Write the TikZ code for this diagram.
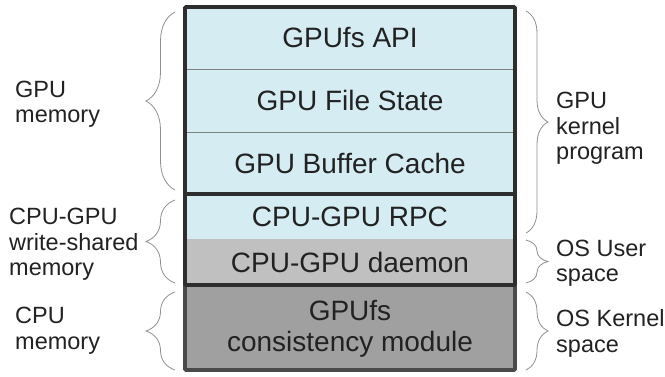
\documentclass[tikz,border=0pt]{standalone}
\usepackage{fontspec}
\setmainfont{Liberation Sans}
\usetikzlibrary{decorations.pathreplacing}
\definecolor{lblue}{HTML}{D4ECF2}
\definecolor{dgray}{HTML}{C0C0C0}
\definecolor{mgray}{HTML}{A0A0A0}
\definecolor{edgec}{HTML}{2E2E2E}
\definecolor{edgeb}{HTML}{4A4A4A}
\definecolor{brc}{HTML}{909090}
\definecolor{txt}{HTML}{222222}
\begin{document}
\begin{tikzpicture}[x=1pt,y=-1pt,
  mainlbl/.style={font=\fontsize{28}{32}\selectfont, text=txt, anchor=base, inner sep=0pt},
  sidelbl/.style={font=\fontsize{23.5}{27}\selectfont, text=txt, anchor=base west, inner sep=0pt},
  frame/.style={draw=edgec, line width=3.8pt, rounded corners=1pt},
  sepline/.style={draw=gray, line width=0.8pt},
  lbrace/.style={draw=brc, line width=0.8pt, decorate, decoration={brace, amplitude=29pt}},
  rbrace/.style={draw=brc, line width=0.8pt, decorate, decoration={brace, amplitude=22pt}}
]
\fill[white] (0,0) rectangle (665,376);
\useasboundingbox (0,0) rectangle (665,376);
% layers
\fill[lblue] (185,7) rectangle (515,239);
\fill[dgray] (185,239) rectangle (515,285);
\fill[mgray] (185,285) rectangle (515,370);
\draw[sepline] (185,69) -- (515,69);
\draw[sepline] (185,132) -- (515,132);
\draw[frame, draw=edgeb] (185,285) rectangle (515,370);
\draw[frame] (185,194) rectangle (515,285);
\draw[frame] (185,7) rectangle (515,194);
% main labels
\node[mainlbl] (api) at (350,47) {GPUfs API};
\node[mainlbl] (fstate) at (350,110) {GPU File State};
\node[mainlbl] (bcache) at (350,173) {GPU Buffer Cache};
\node[mainlbl] (rpc) at (350,226) {CPU-GPU RPC};
\node[mainlbl] (daemon) at (350,272) {CPU-GPU daemon};
\node[mainlbl] (mod1) at (350,320) {GPUfs};
\node[mainlbl] (mod2) at (350,351) {consistency module};
% left braces
\coordinate (lb1a) at (175,190); \coordinate (lb1b) at (175,12);
\coordinate (lb2a) at (175,283); \coordinate (lb2b) at (175,200);
\coordinate (lb3a) at (175,370); \coordinate (lb3b) at (175,292);
\draw[lbrace] (lb1a) -- (lb1b);
\draw[lbrace] (lb2a) -- (lb2b);
\draw[lbrace] (lb3a) -- (lb3b);
% right braces
\coordinate (rb1a) at (526,11); \coordinate (rb1b) at (526,233);
\coordinate (rb2a) at (526,240); \coordinate (rb2b) at (526,283);
\coordinate (rb3a) at (526,292); \coordinate (rb3b) at (526,370);
\draw[rbrace] (rb1a) -- (rb1b);
\draw[rbrace] (rb2a) -- (rb2b);
\draw[rbrace] (rb3a) -- (rb3b);
% left labels
\node[sidelbl] (gm1) at (15,97) {GPU};
\node[sidelbl] (gm2) at (15,122) {memory};
\node[sidelbl] (ws1) at (9,224) {CPU-GPU};
\node[sidelbl] (ws2) at (9,250) {write-shared};
\node[sidelbl] (ws3) at (9,275) {memory};
\node[sidelbl] (cm1) at (15,323) {CPU};
\node[sidelbl] (cm2) at (15,349) {memory};
% right labels
\node[sidelbl] (kp1) at (556,108) {GPU};
\node[sidelbl] (kp2) at (556,134) {kernel};
\node[sidelbl] (kp3) at (556,159) {program};
\node[sidelbl] (us1) at (556,256) {OS User};
\node[sidelbl] (us2) at (556,281) {space};
\node[sidelbl] (ks1) at (556,326) {OS Kernel};
\node[sidelbl] (ks2) at (556,352) {space};
\end{tikzpicture}
\end{document}
